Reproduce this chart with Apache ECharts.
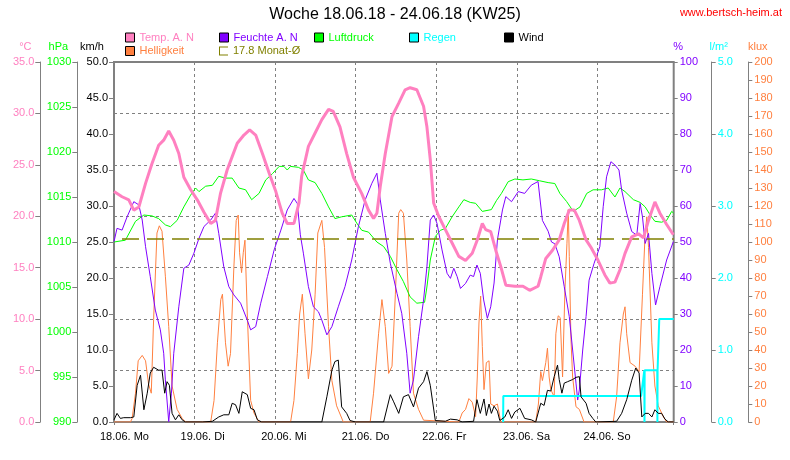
<!DOCTYPE html>
<html>
<head>
<meta charset="utf-8">
<script src="https://cdn.jsdelivr.net/npm/echarts@6/dist/echarts.min.js"></script>
<style>html,body{margin:0;padding:0;background:#fff}#c{width:790px;height:460px}</style>
</head>
<body>
<div id="c"></div>
<script>
// time in hours since 18.06.18 00:00
const xMax = 166.7;
const dayLabels = ['18.06. Mo','19.06. Di','20.06. Mi','21.06. Do','22.06. Fr','23.06. Sa','24.06. So'];
const monthAvg = 17.8;

const tempData = [[0,22.4],[2.4,21.9],[4.4,21.6],[5.9,20.6],[7.4,20.9],[9.4,23.2],[11.3,25.1],[13.3,26.9],[14.8,27.4],[16.3,28.3],[17.8,27.4],[19.3,26.1],[20.8,23.8],[22.8,22.6],[24.8,21.6],[26.8,20.4],[28.8,19.3],[30.2,19.6],[31.7,22.2],[33.7,24.5],[35.2,25.8],[36.7,27.1],[38.7,27.9],[40.4,28.4],[42.2,27.9],[44.2,26.1],[46.2,24.2],[48.2,22.4],[50.1,20.3],[51.6,19.3],[53.6,19.3],[55.1,21.3],[55.9,23.9],[57.9,26.8],[59.9,28.1],[61.9,29.4],[63.9,30.4],[65.3,30.2],[67.3,28.7],[69.3,26.1],[71.3,23.8],[73.8,22.2],[75.8,20.6],[77.3,19.8],[78.3,20.3],[79.3,22.9],[80.8,26.1],[82.8,29.7],[84.8,31.0],[86.7,32.3],[88.2,32.5],[90.2,32.3],[92.2,30.7],[93.2,28.7],[94.2,25.5],[95.2,21.3],[96.7,20.0],[98.7,18.7],[100.7,17.4],[102.7,16.1],[104.7,15.7],[106.7,16.4],[108.2,17.7],[109.7,19.3],[110.7,18.7],[112.2,18.5],[113.7,16.7],[115.2,15.1],[116.7,13.3],[119.4,13.2],[121.8,13.2],[123.8,12.8],[126.3,13.2],[127.1,14.1],[128.6,15.9],[130.6,16.7],[132.6,17.7],[134.1,19.3],[135.6,20.6],[137.1,20.6],[138.6,19.6],[140.6,17.7],[142.2,16.9],[144.2,15.7],[146.2,14.3],[147.7,13.5],[149.2,13.6],[150.7,14.8],[152.2,16.4],[154.2,18.0],[156.2,18.3],[157.7,17.9],[159.2,19.6],[161.1,21.4],[162.6,20.3],[164.6,19.2],[166.6,18.2]];

const humData = [[0,50.1],[0.9,53.8],[2.4,53.3],[3.9,57.0],[5.9,61.2],[7.4,60.3],[8.4,56.1],[9.4,48.7],[10.8,40.4],[12.3,31.1],[13.8,25.6],[14.8,19.1],[15.3,11.7],[16.3,0.1],[17.1,8.0],[17.8,19.1],[19.3,32.0],[20.8,42.7],[22.3,43.6],[23.8,46.9],[25.3,51.0],[26.8,54.3],[28.8,56.1],[30.2,58.0],[31.2,52.4],[32.7,43.1],[34.2,37.6],[35.7,35.3],[37.7,33.0],[39.7,28.3],[40.7,25.6],[42.2,26.5],[43.7,33.0],[45.7,40.4],[47.7,47.8],[49.7,53.3],[51.6,58.9],[53.6,62.1],[54.6,60.7],[55.5,52.0],[56.4,46.9],[57.9,37.6],[59.4,32.0],[60.9,30.6],[61.9,28.3],[63.4,24.2],[64.9,26.5],[66.8,32.0],[68.8,37.6],[70.8,45.0],[72.8,54.3],[74.8,61.7],[76.8,66.3],[78.3,69.1],[79.3,61.7],[80.8,52.4],[82.3,44.1],[84.3,35.7],[85.7,30.2],[87.2,19.1],[88.2,8.0],[89.2,11.7],[90.7,23.7],[92.2,33.9],[93.2,43.1],[94.2,56.1],[95.2,57.5],[96.2,55.2],[97.7,47.8],[99.2,41.3],[100.2,39.9],[101.2,42.7],[102.2,40.4],[103.2,37.1],[104.7,38.5],[106.1,40.8],[107.1,40.4],[108.1,43.6],[109.1,41.3],[110.1,33.9],[111.2,28.8],[112.2,32.0],[113.2,38.6],[114.2,50.6],[115.7,58.9],[116.7,62.6],[118.4,61.2],[120.4,64.0],[122.3,63.5],[124.3,65.8],[126.3,66.8],[127.6,56.0],[129.3,53.0],[130.3,50.0],[131.3,49.5],[132.6,45.9],[134.1,37.6],[135.6,29.3],[136.6,20.0],[137.6,10.8],[138.1,6.1],[138.6,8.9],[139.6,20.0],[140.6,29.3],[141.5,39.4],[143.0,44.1],[144.7,48.7],[145.7,59.8],[146.7,68.1],[148.0,72.3],[149.2,71.4],[150.4,70.0],[151.2,64.4],[152.7,58.0],[154.2,52.9],[155.7,51.9],[156.7,60.7],[157.4,57.0],[158.2,49.6],[159.2,52.4],[160.2,41.3],[161.3,32.5],[162.6,37.6],[164.6,45.0],[166.6,50.1]];

const pressData = [[0,1010.0],[3.4,1010.2],[6.4,1012.3],[8.9,1013.0],[11.3,1012.9],[13.3,1012.6],[15.3,1011.9],[16.8,1011.7],[18.8,1012.4],[20.8,1013.9],[22.8,1015.2],[24.3,1016.0],[25.3,1015.6],[27.3,1016.2],[29.3,1016.3],[31.2,1017.3],[33.2,1017.1],[35.2,1017.1],[37.2,1016.0],[39.2,1015.8],[41.0,1014.7],[43.2,1015.4],[45.2,1016.9],[47.2,1017.6],[49.2,1018.4],[50.6,1018.4],[51.6,1018.0],[52.6,1018.4],[54.9,1018.3],[56.4,1018.0],[57.9,1016.9],[59.9,1016.6],[61.9,1015.4],[63.9,1013.9],[65.8,1012.6],[67.8,1012.8],[70.8,1013.0],[72.3,1012.1],[73.8,1011.3],[75.8,1011.1],[78.3,1010.0],[80.3,1009.5],[82.3,1008.4],[84.3,1006.9],[86.2,1005.6],[88.2,1003.9],[90.2,1003.2],[92.5,1003.3],[93.2,1005.0],[94.2,1008.0],[95.7,1010.6],[97.2,1011.3],[98.7,1011.5],[100.7,1012.8],[102.7,1013.9],[104.2,1014.7],[106.1,1014.4],[107.7,1014.3],[109.7,1013.4],[112.4,1013.6],[113.9,1014.6],[115.4,1015.4],[117.4,1016.7],[119.4,1017.0],[121.8,1016.9],[124.3,1017.0],[126.8,1016.8],[129.3,1016.6],[131.3,1016.5],[132.8,1015.4],[134.8,1014.5],[136.8,1013.4],[138.8,1013.9],[140.8,1015.4],[142.7,1015.8],[145.2,1015.8],[147.2,1016.0],[149.2,1015.0],[150.7,1016.0],[152.2,1015.6],[154.7,1014.7],[156.7,1014.4],[158.2,1013.9],[159.7,1013.0],[161.1,1012.3],[163.1,1012.2],[164.6,1012.4],[166.1,1013.4],[166.7,1013.2]];

const windData = [[0,0.3],[0.9,1.2],[1.9,0.5],[2.9,0.6],[4.9,0.6],[5.9,0.7],[6.9,5.1],[7.9,6.5],[8.9,1.7],[9.9,4.0],[10.8,6.8],[11.8,7.6],[13.3,7.2],[14.3,7.2],[15.1,4.0],[15.8,5.6],[16.5,5.1],[17.3,1.2],[18.3,0.3],[19.3,1.0],[20.3,0.3],[21.3,0],[26.3,0],[29.3,0.1],[31.2,0.7],[32.7,1.0],[34.2,1.0],[35.2,2.6],[36.2,2.4],[37.2,1.2],[38.2,4.2],[39.7,3.8],[40.7,1.9],[41.7,1.7],[42.7,0.3],[44.0,0],[61.9,0],[63.4,3.5],[64.9,7.2],[65.8,8.4],[66.8,8.6],[67.8,2.1],[69.3,1.2],[70.3,0.2],[72.0,0],[80.3,0],[82.3,3.8],[83.3,2.8],[84.8,1.2],[86.2,3.5],[87.7,3.8],[89.2,2.1],[90.7,4.7],[92.2,5.6],[93.2,7.0],[94.2,5.1],[95.7,0.2],[98.7,0.1],[100.2,0.4],[102.2,0.3],[103.7,0],[107.1,0.1],[108.1,3.1],[109.1,1.2],[110.2,3.2],[110.9,0.9],[111.7,2.5],[112.4,1.2],[113.2,2.2],[114.2,1.5],[114.9,0.2],[116.4,0.7],[117.4,1.7],[118.4,0.5],[119.4,1.4],[120.9,1.9],[122.3,0.5],[124.3,0.3],[125.6,0],[127.1,2.6],[128.1,2.3],[129.1,4.4],[130.1,4.3],[131.1,6.3],[132.1,7.9],[132.6,5.9],[133.4,4.0],[134.1,5.4],[135.1,5.6],[136.6,5.9],[137.6,6.2],[138.6,6.3],[139.1,3.5],[139.6,3.7],[140.6,2.6],[141.5,1.2],[142.6,0.5],[143.5,0],[149.7,0.1],[151.2,1.2],[152.7,3.1],[154.2,5.8],[155.4,7.5],[156.4,6.8],[157.2,0.7],[158.2,1.2],[159.2,1.2],[160.2,0.7],[161.1,1.7],[162.1,1.2],[163.1,1.2],[164.1,0.4],[165.1,0],[166.7,0]];

const lightData = [[0,0],[4.9,0],[5.4,2],[6.4,16],[7.2,34],[8.4,37],[9.4,34],[10.3,21],[11.1,16],[11.8,57],[12.8,105],[13.5,109],[14.3,106],[15.3,81],[16.3,53],[17.3,20],[18.8,7],[20.3,2],[21.3,0],[28.8,0],[29.8,12],[30.8,44],[31.8,68],[32.3,71],[33.2,44],[34.0,31],[34.7,38],[35.7,86],[36.4,112],[37.0,115],[37.4,94],[38.0,83],[38.5,94],[39.0,101],[39.7,60],[40.7,12],[41.7,5],[43.2,0],[52.6,0],[53.6,12],[54.6,38],[55.3,60],[56.1,71],[56.9,49],[57.9,24],[58.9,40],[59.9,71],[60.7,105],[61.9,112],[62.7,97],[63.9,53],[64.9,23],[66.3,9],[68.3,0],[76.3,0],[77.3,16],[78.8,49],[79.8,68],[80.8,53],[81.8,27],[82.8,31],[83.8,71],[84.8,116],[85.4,118],[86.2,116],[87.2,90],[88.2,53],[89.2,16],[90.7,7],[92.2,1],[92.7,0],[102.7,0],[103.7,5],[104.7,7],[105.7,13],[106.7,11],[107.7,3],[108.2,25],[108.7,55],[109.2,70],[109.7,42],[110.2,18],[110.9,33],[111.7,34],[112.2,10],[113.2,9],[114.2,10],[115.2,0],[125.6,0],[126.4,10],[127.1,28],[127.6,23],[128.1,28],[128.6,33],[129.1,41],[129.6,25],[130.1,18],[131.1,14],[131.6,49],[132.3,59],[132.9,58],[133.6,25],[134.3,73],[134.9,99],[135.3,118],[135.6,92],[136.1,46],[136.6,25],[137.6,8.5],[138.6,7],[140.0,0],[148.7,0],[149.7,14],[150.7,44],[151.7,60],[152.2,64],[152.7,49],[153.7,33],[155.2,31],[156.4,28],[157.4,71],[158.2,105],[158.7,114],[159.2,97],[160.2,44],[161.1,20],[162.1,9],[163.6,3],[164.6,0],[166.7,0]];

const rainData = [[115.9,0],[115.95,0.36],[157.0,0.36],[157.95,0.72],[158.0,0],[158.05,0.72],[161.8,0.72],[161.85,0],[161.9,0.72],[162.4,1.43],[166.7,1.43]];

const avgData = [[0, monthAvg], [xMax, monthAvg]];

const FONT = 'Liberation Sans, Arial, sans-serif';
const GRAY = '#808080';
const C = {temp:'#ff80c0', hum:'#8000ff', press:'#00ff00', rain:'#00ffff', wind:'#000000', light:'#ff8040', avg:'#808000'};

const chart = echarts.init(document.getElementById('c'), null, {renderer:'canvas'});

function leg(name, left, top, color, icon) {
  return {
    data:[name], left:left, top:top, padding:0, itemWidth:9, itemHeight:9, itemGap:5,
    icon: icon || 'rect', selectedMode:false,
    itemStyle: icon ? {borderWidth:0} : {borderColor:'#000', borderWidth:1},
    lineStyle: {width:0},
    textStyle:{color:color, fontSize:11, fontFamily:FONT, padding:[0,0,0,0]}
  };
}
const avgName = monthAvg.toFixed(1) + ' Monat-Ø';

function yAx(o) {
  return Object.assign({
    type:'value', gridIndex:0,
    axisLine:{show:true, lineStyle:{color:GRAY, width:1}},
    axisTick:{show:true, length:5, lineStyle:{color:GRAY}},
    splitLine:{show:false},
    nameLocation:'end', nameGap:10
  }, o);
}

const option = {
  animation:false,
  backgroundColor:'#ffffff',
  textStyle:{fontFamily:FONT},
  title:[
    {text:'Woche 18.06.18 - 24.06.18 (KW25)', left:'center', top:7, padding:0,
     textStyle:{fontSize:16, fontWeight:'normal', color:'#000', fontFamily:FONT}},
    {text:'www.bertsch-heim.at', right:8, top:7, padding:0,
     textStyle:{fontSize:11, fontWeight:'normal', color:'#ff0000', fontFamily:FONT}}
  ],
  legend:[
    leg('Temp. A. N', 125, 32, C.temp),
    leg('Helligkeit', 125, 45.5, C.light),
    leg('Feuchte A. N', 219, 32, C.hum),
    leg(avgName, 219, 45.5, C.avg, 'path://M0,0L9,0L9,1L1,1L1,8L9,8L9,9L0,9Z'),
    leg('Luftdruck', 314, 32, C.press),
    leg('Regen', 409, 32, C.rain),
    leg('Wind', 504, 32, '#000')
  ],
  grid:[
    {left:114, right:116.3, top:62, bottom:38, show:true, borderColor:GRAY, borderWidth:2, backgroundColor:'transparent'},
    {left:100, right:130.3, top:62, bottom:38, show:false}
  ],
  xAxis:[
    {type:'value', gridIndex:0, min:0, max:xMax, interval:24,
     axisLine:{show:false}, axisTick:{show:true, length:3, lineStyle:{color:GRAY}},
     axisLabel:{show:false},
     splitLine:{show:true, lineStyle:{color:GRAY, width:1, type:[3,3]}}},
    {type:'value', gridIndex:1, min:0, max:xMax, interval:24,
     axisLine:{show:false}, axisTick:{show:false}, splitLine:{show:false},
     axisLabel:{align:'left', margin:9, color:'#000', fontSize:11, fontFamily:FONT,
       formatter:function(v){ const k = Math.round(v/24); return (Math.abs(v-k*24)<0.01 && dayLabels[k]) ? dayLabels[k] : ''; }}}
  ],
  yAxis:[
    yAx({position:'left', offset:0, min:0, max:50, interval:5, name:'km/h',
      axisLine:{show:false},
      nameTextStyle:{color:'#000', fontSize:11, align:'center', padding:[0,44,0,0]},
      axisLabel:{color:'#000', fontSize:11, margin:6, formatter:v=>v.toFixed(1)}}),
    yAx({position:'left', offset:36.7, min:990, max:1030, interval:5, name:'hPa',
      nameTextStyle:{color:'#00ff00', fontSize:11, align:'center', padding:[0,38,0,0]},
      axisLabel:{color:'#00ff00', fontSize:11, margin:6, formatter:v=>String(Math.round(v))}}),
    yAx({position:'left', offset:73.7, min:0, max:35, interval:5, name:'°C',
      nameTextStyle:{color:C.temp, fontSize:11, align:'center', padding:[0,30,0,0]},
      axisLabel:{color:C.temp, fontSize:11, margin:6, formatter:v=>v.toFixed(1)},
      splitLine:{show:true, lineStyle:{color:GRAY, width:1, type:[3,3]}}}),
    yAx({position:'right', offset:0, min:0, max:100, interval:10, name:'%',
      axisLine:{show:false}, axisTick:{show:true, length:4, lineStyle:{color:GRAY}},
      nameTextStyle:{color:C.hum, fontSize:11, align:'center', padding:[0,0,0,9]},
      axisLabel:{color:C.hum, fontSize:11, margin:6, formatter:v=>String(Math.round(v))}}),
    yAx({position:'right', offset:38, min:0, max:5, interval:1, name:'l/m²',
      axisTick:{show:true, length:4, lineStyle:{color:GRAY}},
      nameTextStyle:{color:C.rain, fontSize:11, align:'center', padding:[0,0,0,14]},
      axisLabel:{color:C.rain, fontSize:11, margin:6, formatter:v=>v.toFixed(1)}}),
    yAx({position:'right', offset:74.6, min:0, max:200, interval:10, name:'klux',
      axisTick:{show:true, length:4, lineStyle:{color:GRAY}},
      nameTextStyle:{color:C.light, fontSize:11, align:'center', padding:[0,0,0,19]},
      axisLabel:{color:C.light, fontSize:11, margin:6, formatter:v=>String(Math.round(v))}}),
    {type:'value', gridIndex:1, show:false, min:0, max:1}
  ],
  series:[
    {name:'Helligkeit', type:'line', xAxisIndex:0, yAxisIndex:5, data:lightData, showSymbol:false, symbol:'none',
     lineStyle:{color:C.light, width:1}, itemStyle:{color:C.light}, z:2},
    {name:'Luftdruck', type:'line', xAxisIndex:0, yAxisIndex:1, data:pressData, showSymbol:false, symbol:'none',
     lineStyle:{color:C.press, width:1}, itemStyle:{color:C.press}, z:3},
    {name:'Feuchte A. N', type:'line', xAxisIndex:0, yAxisIndex:3, data:humData, showSymbol:false, symbol:'none',
     lineStyle:{color:C.hum, width:1}, itemStyle:{color:C.hum}, z:4},
    {name:avgName, type:'line', xAxisIndex:0, yAxisIndex:2, data:avgData, showSymbol:false, symbol:'none',
     lineStyle:{color:C.avg, width:1.5, type:[17,8], dashOffset:-8}, itemStyle:{color:C.avg}, z:4},
    {name:'Regen', type:'line', xAxisIndex:0, yAxisIndex:4, data:rainData, showSymbol:false, symbol:'none',
     lineStyle:{color:C.rain, width:2}, itemStyle:{color:C.rain}, z:5},
    {name:'Wind', type:'line', xAxisIndex:0, yAxisIndex:0, data:windData, showSymbol:false, symbol:'none',
     lineStyle:{color:C.wind, width:1}, itemStyle:{color:C.wind}, z:6},
    {name:'Temp. A. N', type:'line', xAxisIndex:0, yAxisIndex:2, data:tempData, showSymbol:false, symbol:'none',
     lineStyle:{color:C.temp, width:3}, itemStyle:{color:C.temp}, z:7}
  ]
};
chart.setOption(option);
</script>
</body>
</html>
